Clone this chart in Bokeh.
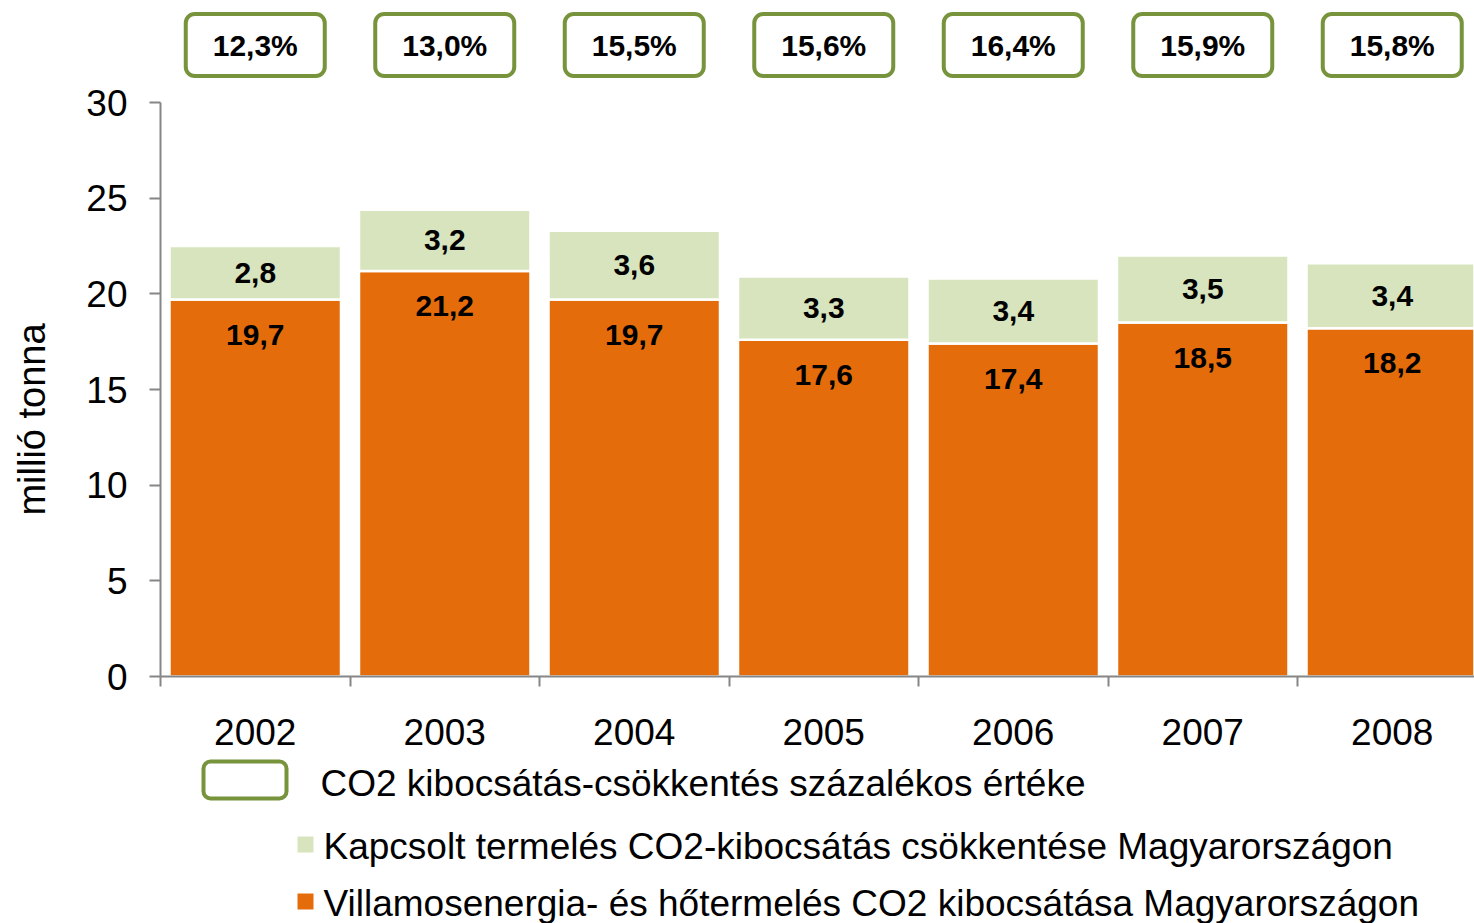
import math
from bokeh.plotting import figure
from bokeh.models import Range1d, FixedTicker, ColumnDataSource
from bokeh.core.properties import value
from bokeh.embed import file_html
from bokeh.resources import INLINE

# ---------------- data ----------------
years = ["2002", "2003", "2004", "2005", "2006", "2007", "2008"]
villamos = [19.7, 21.2, 19.7, 17.6, 17.4, 18.5, 18.2]   # Villamosenergia- és hőtermelés CO2 kibocsátása
kapcsolt = [2.8, 3.2, 3.6, 3.3, 3.4, 3.5, 3.4]          # Kapcsolt termelés CO2-kibocsátás csökkentése
pct = [12.3, 13.0, 15.5, 15.6, 16.4, 15.9, 15.8]        # CO2 kibocsátás-csökkentés százalékos értéke
y_ticks = [0, 5, 10, 15, 20, 25, 30]

legend_pct = "CO2  kibocsátás-csökkentés százalékos értéke"
legend_kap = "Kapcsolt termelés  CO2-kibocsátás csökkentése Magyarországon"
legend_vil = "Villamosenergia- és hőtermelés CO2 kibocsátása Magyarországon"
y_title = "millió tonna"

# ---------------- styles / layout ----------------
ORANGE = "#E46C0A"
LGREEN = "#D7E4BD"
BORDER = "#77933C"
AXIS = "#868686"
FONT = "Liberation Sans"

W, H = 1474, 923
ORIGIN_X, ORIGIN_Y = 160, 676      # canvas pixel of the plot origin
PX_PER_CAT = 189.5
PX_PER_UNIT = 19.133

def px_x(px):
    return (px - ORIGIN_X) / PX_PER_CAT

def px_y(py):
    return (ORIGIN_Y - py) / PX_PER_UNIT

def fmt(v):
    return f"{v:.1f}".replace(".", ",")

n = len(years)
centers = [i + 0.5 for i in range(n)]
bounds = list(range(n + 1))

src = ColumnDataSource(dict(
    x=centers,
    villamos=villamos,
    kapcsolt=kapcsolt,
    vil_lbl=[fmt(v) for v in villamos],
    kap_lbl=[fmt(v) for v in kapcsolt],
    kap_mid=[a + b / 2 for a, b in zip(villamos, kapcsolt)],
    pct_lbl=[fmt(v) + "%" for v in pct],
))

p = figure(width=W, height=H,
           x_range=Range1d(px_x(0), px_x(W)),
           y_range=Range1d(px_y(H), px_y(0)),
           output_backend="svg", toolbar_location=None,
           min_border=0)
p.outline_line_color = None
p.xgrid.visible = False
p.ygrid.visible = False
p.background_fill_color = "white"
p.border_fill_color = "white"

# stacked bars
p.vbar_stack(["villamos", "kapcsolt"], x="x", width=0.905, source=src,
             fill_color=[ORANGE, LGREEN], line_color="white", line_width=2.5)

# value labels
p.text(x="x", y="villamos", text="vil_lbl", source=src, y_offset=35,
       text_align="center", text_baseline="middle",
       text_font=value(FONT), text_font_style="bold", text_font_size="30px",
       text_color="black")
p.text(x="x", y="kap_mid", text="kap_lbl", source=src,
       text_align="center", text_baseline="middle",
       text_font=value(FONT), text_font_style="bold", text_font_size="30px",
       text_color="black")

# percentage boxes above the bars
BOX_Y = px_y(44.5)
p.rect(x="x", y=BOX_Y, width=139, height=62, width_units="screen", height_units="screen",
       source=src, fill_color="white", line_color=BORDER, line_width=4, border_radius=9)
p.text(x="x", y=BOX_Y, text="pct_lbl", source=src,
       text_align="center", text_baseline="middle",
       text_font=value(FONT), text_font_style="bold", text_font_size="30px",
       text_color="black")

# x axis (fixed at y = 0)
xa = p.xaxis[0]
xa.fixed_location = 0
xa.bounds = (0, px_x(W))
xa.ticker = FixedTicker(ticks=centers, minor_ticks=bounds)
xa.major_label_overrides = {c: y for c, y in zip(centers, years)}
xa.major_tick_out = 0
xa.major_tick_in = 0
xa.minor_tick_out = 10
xa.minor_tick_in = 0
xa.minor_tick_line_color = AXIS
xa.minor_tick_line_width = 2
xa.axis_line_color = AXIS
xa.axis_line_width = 2
xa.major_label_text_font = FONT
xa.major_label_text_font_size = "37px"
xa.major_label_text_color = "black"
xa.major_label_standoff = 32

# y axis (fixed at x = 0)
ya = p.yaxis[0]
ya.fixed_location = 0
ya.ticker = FixedTicker(ticks=y_ticks)
ya.bounds = (y_ticks[0], y_ticks[-1])
ya.major_tick_out = 11
ya.major_tick_in = 0
ya.minor_tick_out = 0
ya.minor_tick_in = 0
ya.major_tick_line_color = AXIS
ya.major_tick_line_width = 2
ya.axis_line_color = AXIS
ya.axis_line_width = 2
ya.major_label_text_font = FONT
ya.major_label_text_font_size = "37px"
ya.major_label_text_color = "black"
ya.major_label_standoff = 22

# y-axis title
p.text(x=[px_x(31)], y=[px_y(419)], text=[y_title], angle=math.pi / 2,
       text_align="center", text_baseline="middle",
       text_font=value(FONT), text_font_size="38px", text_color="black")

# legend
p.rect(x=[px_x(244.5)], y=[px_y(779.5)], width=83, height=37,
       width_units="screen", height_units="screen", fill_color="white",
       line_color=BORDER, line_width=4, border_radius=7)
p.rect(x=[px_x(305), px_x(305)], y=[px_y(844), px_y(901)], width=16, height=16,
       width_units="screen", height_units="screen",
       fill_color=[LGREEN, ORANGE], line_color=None)
leg = ColumnDataSource(dict(
    text=[legend_pct, legend_kap, legend_vil],
    tx=[px_x(320), px_x(323), px_x(323)],
    ty=[px_y(783), px_y(846), px_y(903)],
))
p.text(x="tx", y="ty", text="text", source=leg,
       text_align="left", text_baseline="middle",
       text_font=value(FONT), text_font_size="37px", text_color="black")

open("out.html", "w").write(file_html(p, INLINE))
